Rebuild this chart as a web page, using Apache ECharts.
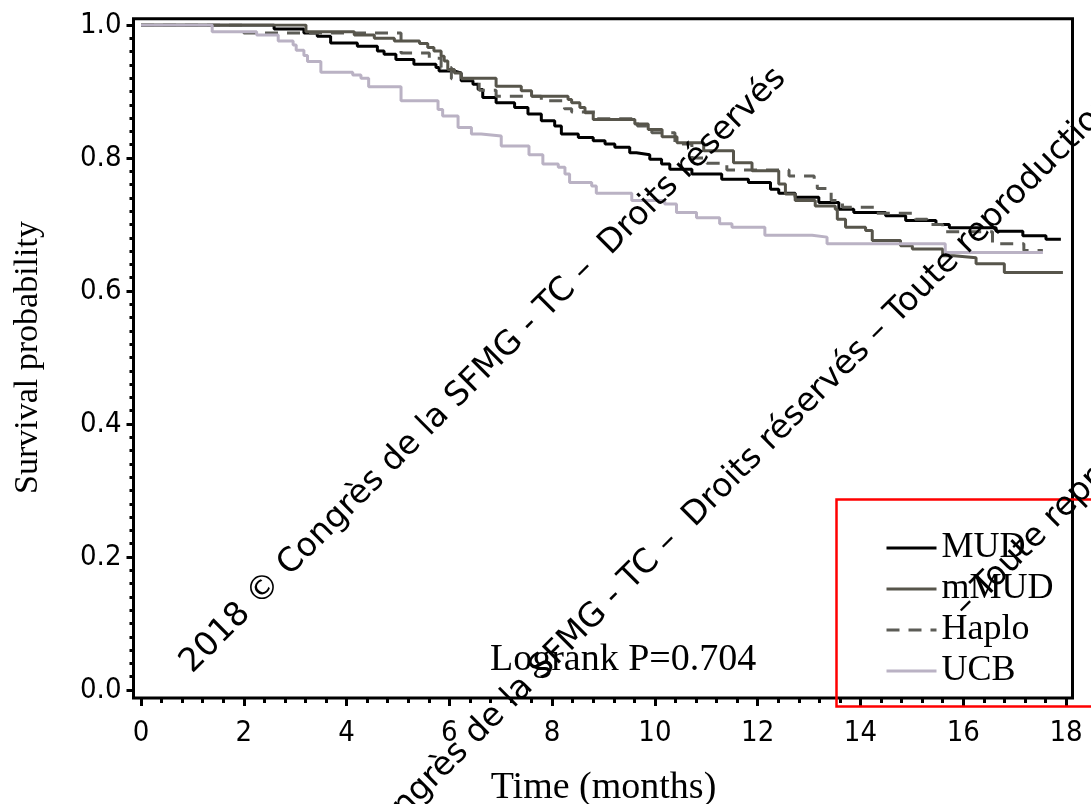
<!DOCTYPE html>
<html>
<head>
<meta charset="utf-8">
<script src="https://cdn.jsdelivr.net/npm/echarts@6/dist/echarts.min.js"></script>
<style>
html,body{margin:0;padding:0;background:#fff;}
#c{width:1091px;height:804px;}
</style>
</head>
<body>
<div id="c"></div>
<script>
// ---- data (Kaplan-Meier steps: time in months, survival probability) ----
var seriesNames = ['MUD', 'mMUD', 'Haplo', 'UCB'];

var mudT = [0, 2.59, 3.17, 3.43, 3.69, 4.21, 4.60, 4.73, 4.96, 5.31, 5.74, 5.80, 6.09, 6.23, 6.46, 6.56, 6.65, 6.91, 7.27, 7.53, 7.79, 8.05, 8.18, 8.51, 8.80, 9.03, 9.22, 9.51, 9.64, 9.90, 10.13, 10.29, 10.72, 11.30, 11.82, 12.25, 12.41, 12.73, 13.19, 13.58, 13.87, 14.49, 14.88, 15.47, 15.73, 16.64, 17.16, 17.61, 17.90];
var mudS = [1, 0.994, 0.988, 0.983, 0.973, 0.968, 0.961, 0.956, 0.948, 0.941, 0.936, 0.931, 0.928, 0.916, 0.911, 0.903, 0.891, 0.883, 0.876, 0.866, 0.856, 0.848, 0.836, 0.831, 0.826, 0.821, 0.816, 0.808, 0.805, 0.798, 0.791, 0.783, 0.776, 0.768, 0.763, 0.753, 0.747, 0.741, 0.733, 0.723, 0.718, 0.713, 0.706, 0.700, 0.695, 0.690, 0.683, 0.678, 0.678];

var mmudT = [0, 3.21, 4.15, 4.54, 4.93, 5.42, 5.58, 5.70, 5.84, 5.90, 5.97, 6.10, 6.23, 6.91, 7.40, 7.60, 8.31, 8.38, 8.54, 8.64, 8.80, 9.61, 9.87, 10.14, 10.43, 10.95, 11.53, 11.89, 12.41, 12.54, 12.73, 13.12, 13.51, 13.55, 13.71, 14.10, 14.23, 14.78, 15.01, 15.60, 15.82, 16.25, 16.80, 17.94];
var mmudS = [1, 0.990, 0.985, 0.980, 0.976, 0.972, 0.966, 0.961, 0.953, 0.946, 0.933, 0.928, 0.920, 0.908, 0.901, 0.893, 0.888, 0.883, 0.876, 0.868, 0.858, 0.851, 0.843, 0.832, 0.823, 0.811, 0.793, 0.781, 0.761, 0.746, 0.736, 0.728, 0.723, 0.708, 0.696, 0.691, 0.676, 0.668, 0.663, 0.653, 0.650, 0.641, 0.628, 0.628];

var haploT = [0, 2.0, 5.06, 5.61, 5.84, 6.04, 6.58, 6.91, 7.79, 8.24, 8.38, 8.87, 9.66, 9.94, 10.39, 10.72, 11.01, 11.40, 12.61, 13.10, 13.16, 13.43, 13.65, 14.27, 15.07, 15.30, 15.60, 16.57, 17.18, 17.55];
var haploS = [1, 0.988, 0.958, 0.950, 0.936, 0.919, 0.902, 0.893, 0.886, 0.874, 0.869, 0.859, 0.848, 0.838, 0.821, 0.800, 0.792, 0.782, 0.773, 0.763, 0.754, 0.736, 0.726, 0.717, 0.708, 0.700, 0.689, 0.671, 0.661, 0.661];

var ucbT = [0, 1.385, 2.25, 2.67, 2.96, 3.02, 3.17, 3.24, 3.50, 4.12, 4.28, 4.43, 5.06, 5.78, 5.87, 6.17, 6.43, 6.62, 7.01, 7.55, 7.82, 8.12, 8.25, 8.34, 8.77, 8.86, 9.55, 10.19, 10.42, 10.81, 11.26, 11.50, 12.14, 13.06, 13.35, 15.65, 17.55];
var ucbS = [1, 0.990, 0.985, 0.976, 0.970, 0.962, 0.954, 0.945, 0.929, 0.925, 0.920, 0.907, 0.886, 0.873, 0.863, 0.846, 0.836, 0.833, 0.818, 0.805, 0.791, 0.786, 0.776, 0.763, 0.758, 0.747, 0.736, 0.731, 0.718, 0.710, 0.701, 0.696, 0.684, 0.681, 0.671, 0.658, 0.658];

var xTickMin = 0, xTickMax = 18, xTickStep = 2;
var yTickMin = 0, yTickMax = 1, yTickStep = 0.2;

var xTitle = 'Time (months)';
var yTitle = 'Survival probability';
var statText = 'Logrank P=0.704';
var watermarkA = '2018 \u00a9 Congr\u00e8s de la SFMG - TC \u2013  Droits r\u00e9serv\u00e9s';
var watermarkB = '2018 \u00a9 Congr\u00e8s de la SFMG - TC \u2013  Droits r\u00e9serv\u00e9s \u2013 Toute reproduction interdite';
var watermarkC = '\u2013 Toute reproduction interdite';

// ---- chart ----
function zip(t, s) { return t.map(function (v, i) { return [v, s[i]]; }); }

var serif = '"Liberation Serif", "DejaVu Serif", serif';
var tickFont = '"DejaVu Sans Condensed", "DejaVu Sans", sans-serif';

var chart = echarts.init(document.getElementById('c'), null, { renderer: 'canvas' });

var hiddenX = function (g) { return { gridIndex: g, type: 'value', min: xTickMin, max: xTickMax, show: false }; };
var hiddenY = function (g) { return { gridIndex: g, type: 'value', min: yTickMin, max: yTickMax, show: false }; };

var wmStyle = function (txt) {
  return { text: txt, fontFamily: '"DejaVu Sans"', fontSize: 33, fill: '#000',
    align: 'left', verticalAlign: 'middle', textAlign: 'left', textVerticalAlign: 'middle' };
};

var option = {
  animation: false,
  backgroundColor: '#ffffff',
  grid: [
    { left: 141, right: 25, top: 25, bottom: 114, outerBoundsMode: 'none', containLabel: false },
    { left: 141, right: 25, top: 25, bottom: 106, outerBoundsMode: 'none', containLabel: false },
    { left: 133.5, right: 25, top: 25, bottom: 114, outerBoundsMode: 'none', containLabel: false }
  ],
  xAxis: [
    hiddenX(0),
    {
      gridIndex: 1, type: 'value', min: xTickMin, max: xTickMax, interval: xTickStep,
      axisLine: { show: false },
      axisTick: { show: true, length: 8, lineStyle: { color: '#000', width: 3 } },
      minorTick: { show: true, splitNumber: 5, length: 5, lineStyle: { color: '#000', width: 3 } },
      splitLine: { show: false }, minorSplitLine: { show: false },
      axisLabel: { margin: 21, fontFamily: tickFont, fontSize: 29, color: '#000' },
      name: xTitle, nameLocation: 'middle', nameGap: 71,
      nameTextStyle: { fontFamily: serif, fontSize: 38, color: '#000' }
    },
    { gridIndex: 2, type: 'value', min: xTickMin, max: xTickMax, show: false }
  ],
  yAxis: [
    hiddenY(0),
    hiddenY(1),
    {
      gridIndex: 2, type: 'value', min: yTickMin, max: yTickMax, interval: yTickStep,
      axisLine: { show: false },
      axisTick: { show: true, length: 7, lineStyle: { color: '#000', width: 3 } },
      minorTick: { show: true, splitNumber: 10, length: 4, lineStyle: { color: '#000', width: 3 } },
      splitLine: { show: false }, minorSplitLine: { show: false },
      axisLabel: { margin: 12, fontFamily: tickFont, fontSize: 29, color: '#000',
        formatter: function (v) { return v.toFixed(1); } },
      name: yTitle, nameLocation: 'middle', nameGap: 88, nameRotate: 90,
      nameTextStyle: { fontFamily: serif, fontSize: 34, color: '#000' }
    }
  ],
  legend: {
    data: seriesNames, orient: 'vertical', left: 885, top: 530,
    itemWidth: 50, itemHeight: 4, itemGap: 5, padding: 0,
    itemStyle: { color: 'rgba(0,0,0,0)', borderWidth: 0, opacity: 0 },
    lineStyle: { width: 3 },
    textStyle: { fontFamily: serif, fontSize: 36, color: '#000' }
  },
  series: [
    { name: 'MUD', type: 'line', step: 'end', symbol: 'none', data: zip(mudT, mudS),
      lineStyle: { color: '#000000', width: 3 }, itemStyle: { color: '#000000' } },
    { name: 'Haplo', type: 'line', step: 'end', symbol: 'none', data: zip(haploT, haploS),
      lineStyle: { color: '#5c5c56', width: 3, type: [13, 9] }, itemStyle: { color: '#5c5c56' } },
    { name: 'mMUD', type: 'line', step: 'end', symbol: 'none', data: zip(mmudT, mmudS),
      lineStyle: { color: '#57554b', width: 3 }, itemStyle: { color: '#57554b' } },
    { name: 'UCB', type: 'line', step: 'end', symbol: 'none', data: zip(ucbT, ucbS),
      lineStyle: { color: '#bab2c4', width: 3 }, itemStyle: { color: '#bab2c4' } }
  ],
  graphic: [
    { type: 'rect', z: 50, silent: true,
      shape: { x: 133.5, y: 18.7, width: 939, height: 679.3 },
      style: { fill: 'none', stroke: '#000', lineWidth: 3 } },
    { type: 'text', z: 50, x: 490, y: 660,
      style: { text: statText, fontFamily: serif, fontSize: 38, fill: '#000',
        align: 'left', verticalAlign: 'middle', textAlign: 'left', textVerticalAlign: 'middle' } },
    { type: 'rect', z: 60, silent: true,
      shape: { x: 836.5, y: 499.5, width: 270, height: 207 },
      style: { fill: 'none', stroke: '#ff0000', lineWidth: 2.5 } },
    { type: 'text', z: 100, x: 186, y: 668, rotation: Math.PI / 4, style: wmStyle(watermarkA) },
    { type: 'text', z: 100, x: 270, y: 940, rotation: Math.PI / 4, style: wmStyle(watermarkB) },
    { type: 'text', z: 100, x: 960, y: 612, rotation: Math.PI / 4, style: wmStyle(watermarkC) }
  ]
};
chart.setOption(option);
</script>
</body>
</html>
